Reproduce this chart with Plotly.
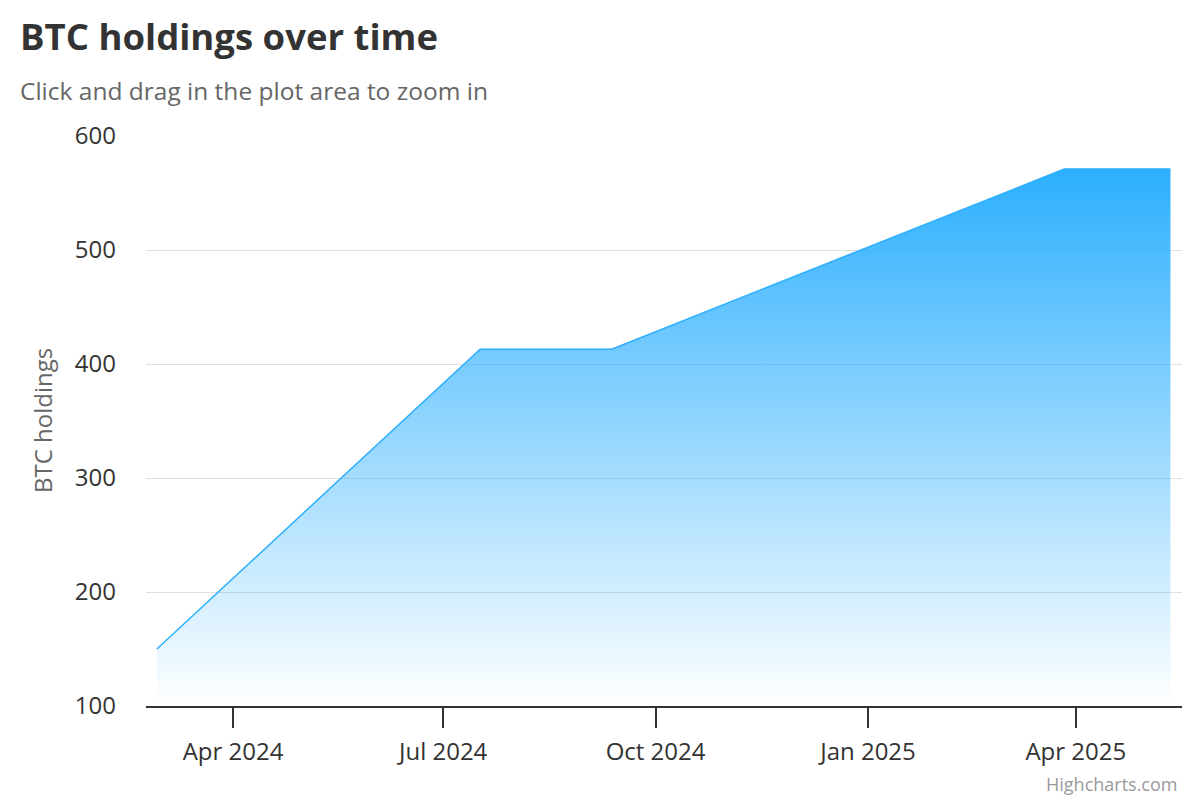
import plotly.graph_objects as go

# Data
dates = ["2024-02-28", "2024-07-17", "2024-09-12", "2025-03-27", "2025-05-12"]
holdings = [150, 413, 413, 571, 571]

x_range = ["2024-02-23 07:00", "2025-05-17"]
y_range = [100, 600]
y_ticks = [100, 200, 300, 400, 500, 600]

COLOR = "#2caffe"
FONT = "Open Sans"

# page body has an 8px margin; work in reference pixels and shift
OFF = 8
FW, FH = 1200 - OFF, 800 - OFF
PL, PR, PT, PB = 146, 1182, 136, 706
W, H = PR - PL, PB - PT

fig = go.Figure()
fig.add_trace(go.Scatter(
    x=dates, y=holdings, mode="lines",
    line=dict(color=COLOR, width=1.5),
    fill="tozeroy",
    fillgradient=dict(
        type="vertical",
        colorscale=[[0, "rgba(44,175,254,0)"], [1, "rgba(44,175,254,1)"]],
        start=100, stop=571,
    ),
    hoverinfo="x+y",
    showlegend=False,
))


def px_x(p):
    return (p - PL) / W


def px_y(p):
    return (PB - p) / H


fig.update_layout(
    width=FW, height=FH,
    margin=dict(l=PL - OFF, r=1200 - PR, t=PT - OFF, b=800 - PB, autoexpand=False),
    paper_bgcolor="white", plot_bgcolor="white",
    font=dict(family=FONT, color="#333333"),
    title=dict(
        text="BTC holdings over time",
        font=dict(family=FONT, size=36.5, color="#333333", weight="bold"),
        x=(20 - OFF) / FW, xanchor="left", xref="container",
        y=1 - (37 - OFF) / FH, yanchor="middle", yref="container",
    ),
    xaxis=dict(
        type="date", range=x_range,
        dtick="M3", tick0="2024-01-01", tickformat="%b %Y",
        showgrid=False, zeroline=False,
        showline=True, linecolor="#333333", linewidth=2,
        ticks="outside", ticklen=20, tickwidth=1.5, tickcolor="#333333",
        tickfont=dict(family=FONT, size=24, color="#333333"),
        ticklabelstandoff=3,
        fixedrange=False,
    ),
    yaxis=dict(
        range=y_range, tickvals=y_ticks,
        showgrid=True, gridcolor="#e0e0e0", gridwidth=1,
        zeroline=False, showline=False, ticks="",
        tickfont=dict(family=FONT, size=24, color="#333333"),
        ticklabelstandoff=29,
    ),
    annotations=[
        dict(text="Click and drag in the plot area to zoom in",
             xref="paper", yref="paper", x=px_x(18), y=px_y(91),
             xanchor="left", yanchor="middle", showarrow=False,
             font=dict(family=FONT, size=24.5, color="#666666")),
        dict(text="BTC holdings", textangle=-90,
             xref="paper", yref="paper", x=px_x(42), y=px_y(421),
             xanchor="center", yanchor="middle", showarrow=False,
             font=dict(family=FONT, size=24, color="#666666")),
        dict(text="Highcharts.com",
             xref="paper", yref="paper", x=px_x(1179), y=px_y(784),
             xanchor="right", yanchor="middle", showarrow=False,
             font=dict(family=FONT, size=18, color="#999999")),
    ],
)

fig.write_html("out.html")
